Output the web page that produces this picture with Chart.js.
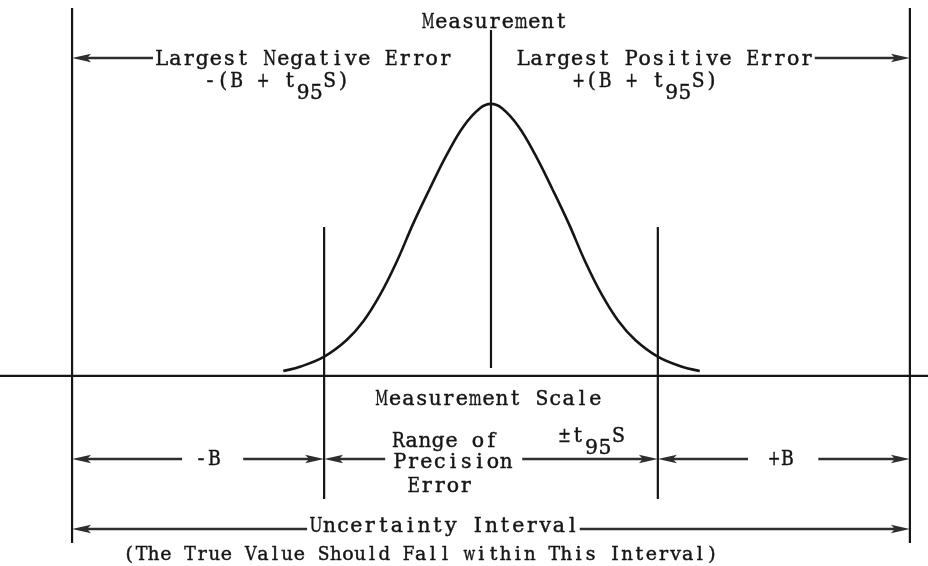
<!DOCTYPE html>
<html><head><meta charset="utf-8">
<script src="https://cdn.jsdelivr.net/npm/chart.js@4"></script>
<style>html,body{margin:0;padding:0;background:#fff;} canvas{display:block}</style>
</head><body>
<canvas id="c" width="928" height="566"></canvas>
<script>
// ---- Data: x in units of S measured from the measurement, y = relative frequency (peak = 1)
const curveX = [-2.925, -2.69, -2.348, -2.032, -1.8, -1.563, -1.328, -1.094, -0.859, -0.624, -0.39, -0.155, 0,
                0.155, 0.39, 0.624, 0.859, 1.094, 1.328, 1.563, 1.8, 2.032, 2.348, 2.69, 2.94];
const curveY = [0.018, 0.034, 0.071, 0.132, 0.2, 0.298, 0.42, 0.561, 0.69, 0.8125, 0.9165, 0.984, 1.0,
                0.984, 0.9165, 0.8125, 0.69, 0.561, 0.42, 0.298, 0.2, 0.132, 0.071, 0.034, 0.018];
const t95S = 2.35;
const B = 3.55;
const markX = [-(B + t95S), -t95S, 0, t95S, B + t95S];
const markTop = [1.353, 0.548, 1.272, 0.548, 1.353];
const markBottom = [-0.614, -0.452, 0.029, -0.452, -0.614];
const scaleMin = -6.915, scaleMax = 6.155;
const freqMin = -0.6985, freqMax = 1.382;

// arrows: shaft start, head position, height
const arrowFrom = [-4.76, 4.56, -4.35, -3.49, -1.49, 0.44, 3.62, 4.61, -2.59, 1.25];
const arrowTo   = [-(B + t95S), B + t95S, -(B + t95S), -t95S, -t95S, t95S, t95S, B + t95S, -(B + t95S), B + t95S];
const arrowY    = [1.169, 1.169, -0.305, -0.305, -0.305, -0.305, -0.305, -0.305, -0.5625, -0.5625];

// labels
const labelText = ["Measurement", "Largest Negative Error", "-(B + t_{95}S)", "Largest Positive Error", "+(B + t_{95}S)",
  "Measurement Scale", "-B", "Range of", "Precision", "Error", "±t_{95}S", "+B", "Uncertainty Interval",
  "(The True Value Should Fall within This Interval)"];
const labelX = [0.05, -2.64, -3.02, 2.45, 2.17, -0.035, -3.99, -0.65, -0.535, -0.72, 1.415, 4.08, -0.66, -0.99];
const labelY = [1.279, 1.143, 1.0625, 1.143, 1.0625, -0.107, -0.327, -0.261, -0.338, -0.426, -0.243, -0.327, -0.574, -0.676];
const labelSize  = [20.5, 20.5, 20.5, 20.5, 20.5, 20.5, 20.5, 20.5, 20.5, 20.5, 20.5, 20.5, 20.5, 19];
const labelPitch = [13.3, 13.5, 13.3, 13.5, 13.3, 13.35, 13.3, 13.25, 13.3, 13.0, 13.5, 13.3, 13.5, 12.14];

const FONT = '"DejaVu Serif", "Liberation Serif", serif';
const INK = '#151515';

function parseRich(s) {
  const chars = [];
  const re = /_\{([^}]*)\}/g;
  let last = 0, m;
  const push = (t, sub) => { for (const c of t) chars.push({c, sub}); };
  while ((m = re.exec(s))) {
    if (m.index > last) push(s.slice(last, m.index), false);
    push(m[1], true);
    last = re.lastIndex;
  }
  if (last < s.length) push(s.slice(last), false);
  return chars;
}

const overlay = {
  id: 'overlay',
  beforeDraw(chart) {
    const ctx = chart.ctx;
    ctx.save();
    ctx.fillStyle = '#fff';
    ctx.fillRect(0, 0, chart.width, chart.height);
    ctx.restore();
  },
  afterDatasetsDraw(chart) {
    const ctx = chart.ctx, xs = chart.scales.x, ys = chart.scales.y;
    ctx.save();
    // arrows
    arrowFrom.forEach((f, i) => {
      const x0 = xs.getPixelForValue(f), x1 = xs.getPixelForValue(arrowTo[i]), yy = ys.getPixelForValue(arrowY[i]);
      const d = Math.sign(x1 - x0);
      ctx.strokeStyle = '#2e2e2e';
      ctx.lineWidth = 2.6;
      ctx.beginPath(); ctx.moveTo(x0, yy); ctx.lineTo(x1 - d * 10, yy); ctx.stroke();
      ctx.fillStyle = '#2e2e2e';
      ctx.beginPath();
      ctx.moveTo(x1, yy);
      ctx.lineTo(x1 - d * 19, yy - 4.2);
      ctx.lineTo(x1 - d * 15, yy);
      ctx.lineTo(x1 - d * 19, yy + 4.2);
      ctx.closePath();
      ctx.fill();
    });
    // labels: typewriter-style, one character per fixed-width cell
    ctx.fillStyle = INK;
    ctx.strokeStyle = INK;
    ctx.lineWidth = 0.45;
    ctx.textBaseline = 'alphabetic';
    ctx.textAlign = 'center';
    labelText.forEach((txt, i) => {
      const chars = parseRich(txt);
      const pitch = labelPitch[i];
      ctx.font = labelSize[i] + 'px ' + FONT;
      const total = chars.length * pitch;
      const left = xs.getPixelForValue(labelX[i]) - total / 2;
      const by = ys.getPixelForValue(labelY[i]);
      chars.forEach((ch, k) => {
        if (ch.c === ' ') return;
        const w = ctx.measureText(ch.c).width;
        const sx = Math.min(1, (pitch * 0.96) / w);
        ctx.save();
        ctx.translate(left + (k + 0.5) * pitch, ch.sub ? by + 12 : by);
        ctx.scale(sx, 1);
        ctx.fillText(ch.c, 0, 0);
        ctx.strokeText(ch.c, 0, 0);
        ctx.restore();
      });
    });
    ctx.restore();
  }
};

const datasets = [];
datasets.push({
  data: curveX.map((v, i) => ({x: v, y: curveY[i]})),
  showLine: true, borderColor: INK, borderWidth: 2.6, pointRadius: 0,
  tension: 0.4, fill: false
});
markX.forEach((v, i) => {
  datasets.push({
    data: [{x: v, y: markTop[i]}, {x: v, y: markBottom[i]}],
    showLine: true, borderColor: INK, borderWidth: 2.2, pointRadius: 0
  });
});
datasets.push({
  data: [{x: scaleMin, y: 0}, {x: scaleMax, y: 0}],
  showLine: true, borderColor: INK, borderWidth: 2.2, pointRadius: 0
});

new Chart(document.getElementById('c'), {
  type: 'scatter',
  data: {datasets},
  options: {
    responsive: false,
    animation: false,
    devicePixelRatio: 1,
    layout: {padding: 0},
    plugins: {legend: {display: false}, tooltip: {enabled: false}},
    events: [],
    scales: {
      x: {type: 'linear', min: scaleMin, max: scaleMax, display: false},
      y: {type: 'linear', min: freqMin, max: freqMax, display: false}
    }
  },
  plugins: [overlay]
});
</script>
</body></html>
